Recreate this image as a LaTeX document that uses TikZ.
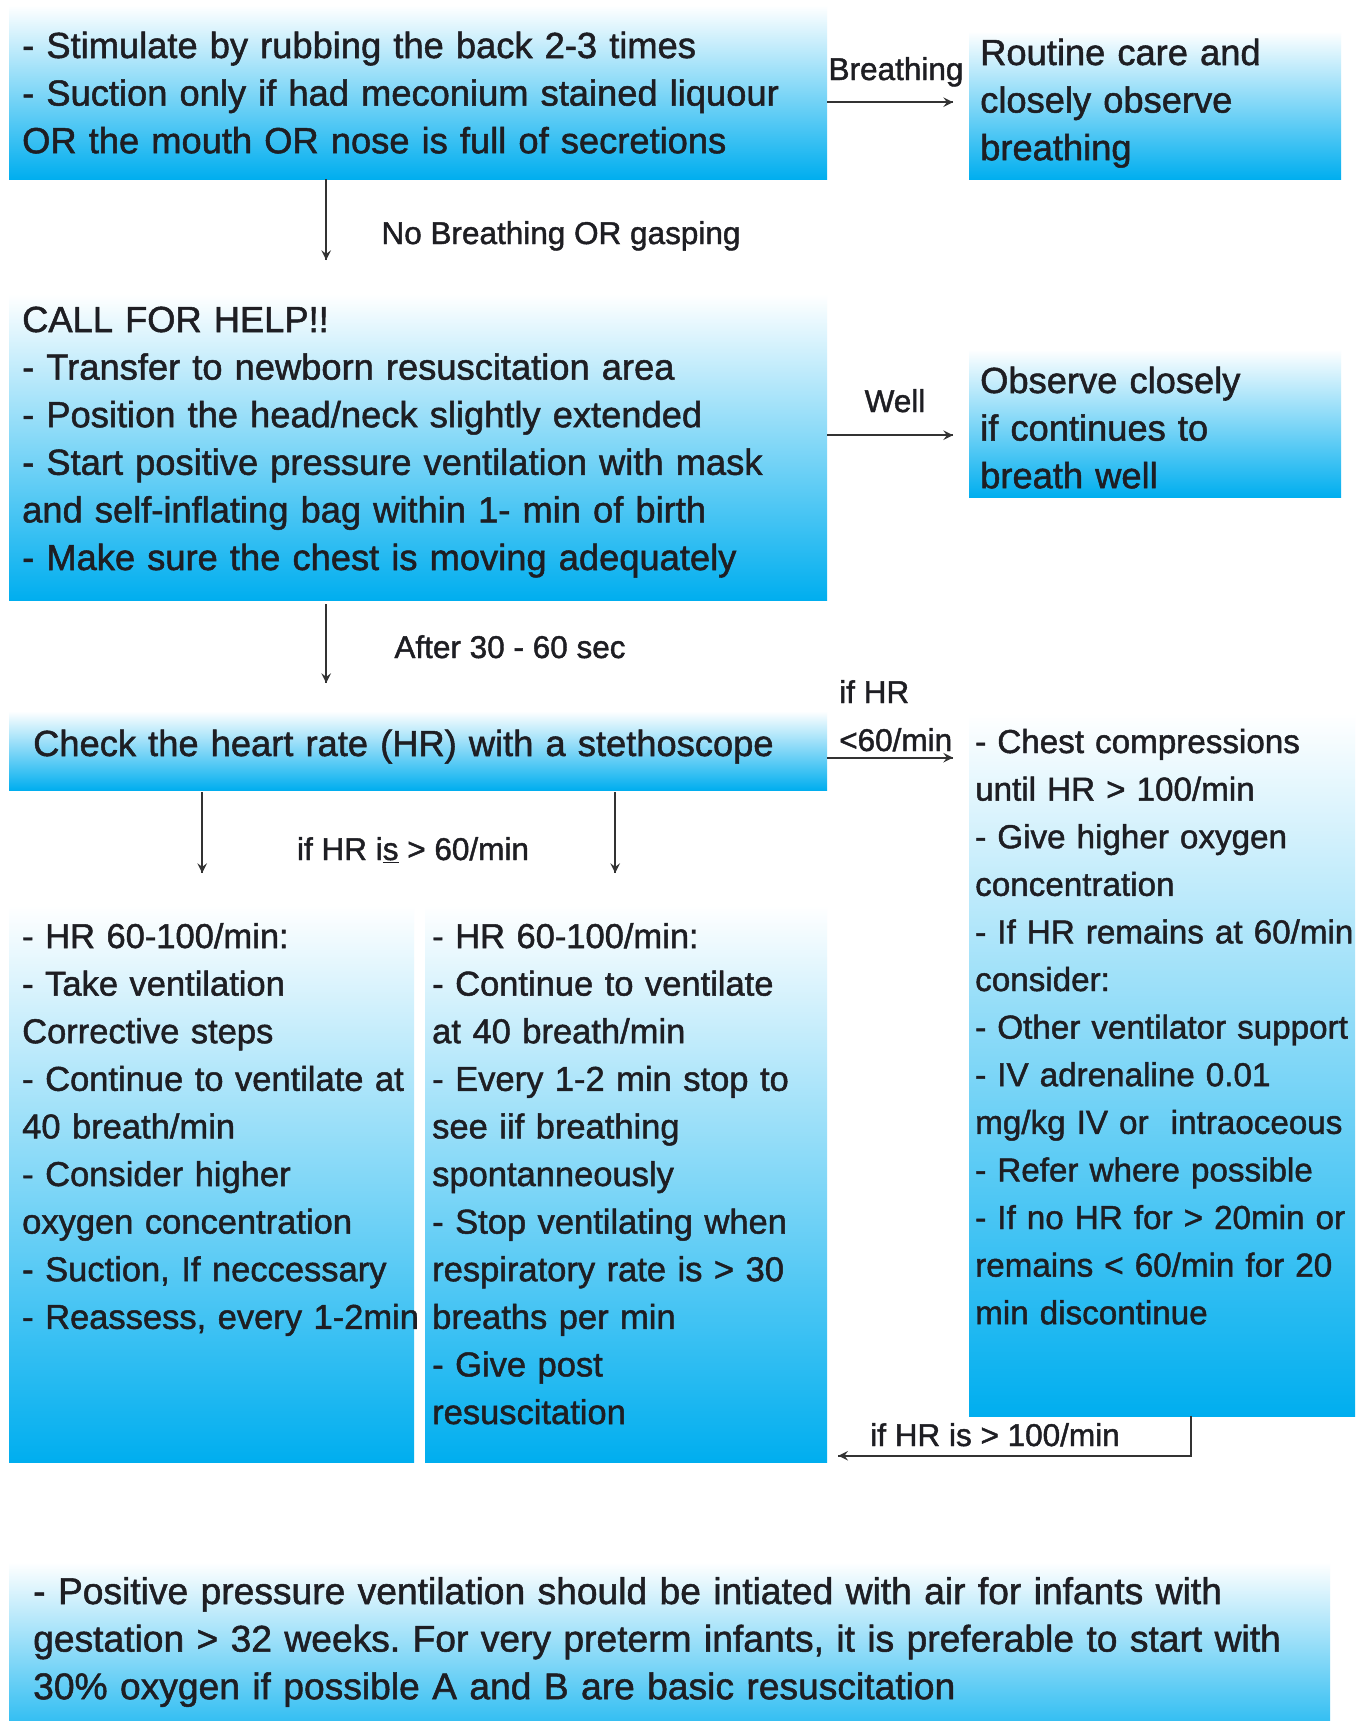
\documentclass[tikz,border=0pt]{standalone}
\usepackage{fontspec}
\setmainfont{Liberation Sans}[FakeBold=1.4]
\frenchspacing
\tikzset{->/.style = {decoration={markings, mark=at position 1 with {\arrow[scale=1.3]{stealth}}}, postaction={decorate}}}
\usetikzlibrary{calc,
                 decorations.markings}
\definecolor{boxblue}{RGB}{0,174,239}
\definecolor{ink}{RGB}{30,30,35}
\tikzset{box/.style = {rectangle, anchor=north west, inner sep=0, top color=white, bottom color=boxblue},
         txt/.style = {anchor=base west, inner sep=0, text width=1400pt, align=left, text=ink},
         big/.style = {font=\fontsize{36.3}{47.6}\selectfont},
         wide/.style = {font=\fontsize{37.2}{47.6}\selectfont},
         mid/.style = {font=\fontsize{34.5}{47.6}\selectfont},
         small/.style = {font=\fontsize{33.2}{47.6}\selectfont},
         lbl/.style = {inner sep=0, text=ink, font=\fontsize{31.5}{40}\selectfont},
         link/.style = {->, line width=2.2pt, color=black!80}}

\begin{document}
\begin{tikzpicture}[x=1pt, y=-1pt]
    \useasboundingbox (0,0) rectangle (1360,1721);
    \fill[white] (0,0) rectangle (1360,1721);

    % boxes
    \node[box, minimum width=818, minimum height=174] (stim) at (9,5) {};
    \node[box, minimum width=372, minimum height=148] (routine) at (969,31) {};
    \node[box, minimum width=818, minimum height=306] (help) at (9,294) {};
    \node[box, minimum width=372, minimum height=148] (observe) at (969,349) {};
    \node[box, minimum width=818, minimum height=79] (check) at (9,711) {};
    \node[box, minimum width=386, minimum height=703] (compress) at (969,713) {};
    \node[box, minimum width=405, minimum height=557] (hrlow) at (9,905) {};
    \node[box, minimum width=402, minimum height=557] (hrmid) at (425,905) {};
    \node[box, minimum width=1321, minimum height=200] (note) at (9,1562) {};

    % texts
    \node[txt, big] (stimtext) at ($(stim.north west)+(13,53)$)
        {- Stimulate by rubbing the back 2-3 times\\
         - Suction only if had meconium stained liquour\\
         OR the mouth OR nose is full of secretions};
    \node[txt, big] (routinetext) at ($(routine.north west)+(11,34)$)
        {Routine care and\\ closely observe\\ breathing};
    \node[txt, big] (helptext) at ($(help.north west)+(13,38)$)
        {CALL FOR HELP!!\\
         - Transfer to newborn resuscitation area\\
         - Position the head/neck slightly extended\\
         - Start positive pressure ventilation with mask\\
         and self-inflating bag within 1- min of birth\\
         - Make sure the chest is moving adequately};
    \node[txt, big] (observetext) at ($(observe.north west)+(11,44)$)
        {Observe closely\\ if continues to\\ breath well};
    \node[txt, big] (checktext) at ($(check.north west)+(24,45)$)
        {Check the heart rate (HR) with a stethoscope};
    \node[txt, small] (compresstext) at ($(compress.north west)+(6,40)$)
        {- Chest compressions\\
         until HR > 100/min\\
         - Give higher oxygen\\
         concentration\\
         - If HR remains at 60/min\\
         consider:\\
         - Other ventilator support\\
         - IV adrenaline 0.01\\
         mg/kg IV or\ \ intraoceous\\
         - Refer where possible\\
         - If no HR for > 20min or\\
         remains < 60/min for 20\\
         min discontinue};
    \node[txt, mid] (hrlowtext) at ($(hrlow.north west)+(13,43)$)
        {- HR 60-100/min:\\
         - Take ventilation\\
         Corrective steps\\
         - Continue to ventilate at\\
         40 breath/min\\
         - Consider higher\\
         oxygen concentration\\
         - Suction, If neccessary\\
         - Reassess, every 1-2min};
    \node[txt, mid] (hrmidtext) at ($(hrmid.north west)+(7,43)$)
        {- HR 60-100/min:\\
         - Continue to ventilate\\
         at 40 breath/min\\
         - Every 1-2 min stop to\\
         see iif breathing\\
         spontanneously\\
         - Stop ventilating when\\
         respiratory rate is > 30\\
         breaths per min\\
         - Give post\\
         resuscitation};
    \node[txt, wide] (notetext) at ($(note.north west)+(24,42)$)
        {- Positive pressure ventilation should be intiated with air for infants with\\
         gestation > 32 weeks. For very preterm infants, it is preferable to start with\\
         30\% oxygen if possible A and B are basic resuscitation};

    % connectors
    \draw[link] ($(stim.east)+(0,10)$) -- ($(routine.west)+(-16,-3)$);
    \draw[link] ($(stim.south)+(-92,0)$) -- ($(help.north)+(-92,-34)$);
    \draw[link] ($(help.east)+(0,-12)$) -- ($(observe.west)+(-16,12)$);
    \draw[link] ($(help.south)+(-92,4)$) -- ($(check.north)+(-92,-28)$);
    \draw[link] ($(check.east)+(0,7)$) -- ($(compress.west |- check.east)+(-16,7)$);
    \draw[link] ($(check.south)+(-216,2)$) -- ($(hrlow.north)+(-9.5,-32)$);
    \draw[link] ($(check.south)+(197,2)$) -- ($(hrmid.north)+(-11,-32)$);
    \draw[link] ($(compress.south)+(29,0)$) |- ($(hrmid.east)+(11,272)$);

    % labels
    \node[lbl, anchor=base] (breathing) at (896,80) {Breathing};
    \node[lbl, anchor=base] (nobreath) at (561,244) {No Breathing OR gasping};
    \node[lbl, anchor=base] (well) at (895,412) {Well};
    \node[lbl, anchor=base] (after) at (510,658) {After 30 - 60 sec};
    \node[lbl, anchor=base west] (ifhr) at (839,703) {if HR};
    \node[lbl, anchor=base west] (below) at (839,751) {<60/min};
    \node[lbl, anchor=base] (above) at (413,860) {if HR i\underline{s} > 60/min};
    \node[lbl, anchor=base] (back) at (995,1446) {if HR is > 100/min};
\end{tikzpicture}
\end{document}
